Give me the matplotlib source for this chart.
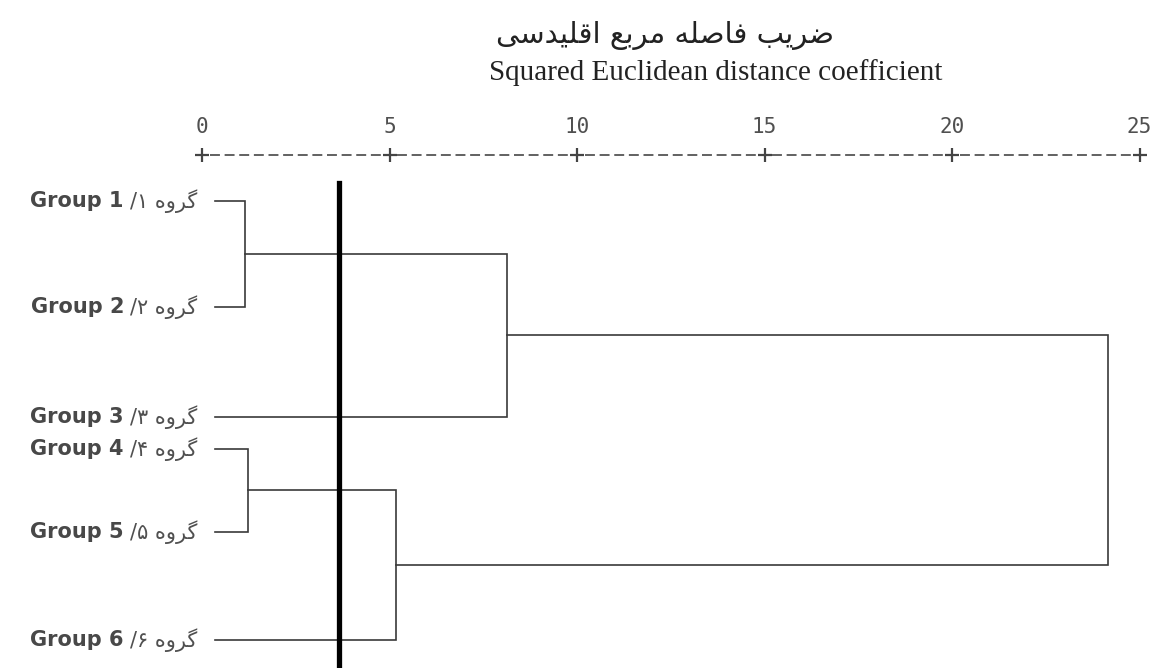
import matplotlib
matplotlib.use("Agg")
import matplotlib.pyplot as plt

# --- data -------------------------------------------------------------
title_fa = "ضریب فاصله مربع اقلیدسی"
title_en = "Squared Euclidean distance coefficient"

group_names = ["Group 1", "Group 2", "Group 3", "Group 4", "Group 5", "Group 6"]
group_fa_digits = ["۱", "۲", "۳", "۴", "۵", "۶"]
group_fa_word = "گروه"

# vertical row of each leaf (top to bottom)
leaf_rows = [0.48, 2.47, 4.52, 5.12, 6.67, 8.69]

# merges: (child a, child b, distance); new node ids continue after the leaves
merges = [
    (0, 1, 1.15),
    (3, 4, 1.23),
    (7, 5, 5.17),
    (6, 2, 8.13),
    (9, 8, 24.16),
]

cut_distance = 3.65
scale_ticks = [0, 5, 10, 15, 20, 25]
leaf_start = 0.35


# --- minimal arabic/persian shaping (matplotlib has no bidi support) ---
# letter: (isolated, final, initial, medial); None = does not join forward
FORMS = {
    "ا": ("\uFE8D", "\uFE8E", None, None),
    "ب": ("\uFE8F", "\uFE90", "\uFE91", "\uFE92"),
    "د": ("\uFEA9", "\uFEAA", None, None),
    "ر": ("\uFEAD", "\uFEAE", None, None),
    "س": ("\uFEB1", "\uFEB2", "\uFEB3", "\uFEB4"),
    "ص": ("\uFEB9", "\uFEBA", "\uFEBB", "\uFEBC"),
    "ض": ("\uFEBD", "\uFEBE", "\uFEBF", "\uFEC0"),
    "ع": ("\uFEC9", "\uFECA", "\uFECB", "\uFECC"),
    "ف": ("\uFED1", "\uFED2", "\uFED3", "\uFED4"),
    "ق": ("\uFED5", "\uFED6", "\uFED7", "\uFED8"),
    "ل": ("\uFEDD", "\uFEDE", "\uFEDF", "\uFEE0"),
    "م": ("\uFEE1", "\uFEE2", "\uFEE3", "\uFEE4"),
    "ه": ("\uFEE9", "\uFEEA", "\uFEEB", "\uFEEC"),
    "و": ("\uFEED", "\uFEEE", None, None),
    "ی": ("\uFBFC", "\uFBFD", "\uFBFE", "\uFBFF"),
    "گ": ("\uFB92", "\uFB93", "\uFB94", "\uFB95"),
}


def shape_rtl(text):
    out = []
    for i, ch in enumerate(text):
        if ch not in FORMS:
            out.append(ch)
            continue
        prev = text[i - 1] if i > 0 else ""
        nxt = text[i + 1] if i + 1 < len(text) else ""
        joins_prev = prev in FORMS and FORMS[prev][2] is not None
        joins_next = nxt in FORMS and FORMS[ch][2] is not None
        iso, fin, ini, med = FORMS[ch]
        if joins_prev and joins_next:
            out.append(med)
        elif joins_prev:
            out.append(fin)
        elif joins_next:
            out.append(ini)
        else:
            out.append(iso)
    return "".join(reversed(out))


# --- figure -------------------------------------------------------------
fig = plt.figure(figsize=(11.5, 6.68), dpi=100)
ax = fig.add_axes([202 / 1150, 0.0, 937.5 / 1150, 493 / 668])
ax.set_xlim(0, 25)
ax.set_ylim(9.215, 0)
ax.axis("off")

line_col = "#3a3a3a"

# tree
pos = {i: (leaf_start, r) for i, r in enumerate(leaf_rows)}
node = len(leaf_rows)
for a, b, h in merges:
    xa, ya = pos[a]
    xb, yb = pos[b]
    ax.plot([xa, h, h, xb], [ya, ya, yb, yb], color=line_col, lw=1.2,
            solid_joinstyle="miter")
    pos[node] = (h, (ya + yb) / 2)
    node += 1

# cut line
ax.plot([cut_distance, cut_distance], [0.15, 9.3], color="black", lw=3.8,
        clip_on=False)

# leaf labels: persian part (regular) at the right, english part (bold) to its left
fa_word = shape_rtl(group_fa_word)
renderer = fig.canvas.get_renderer()
for name, dig, row in zip(group_names, group_fa_digits, leaf_rows):
    fa = ax.text(-0.13, row, f"/{dig} {fa_word}", ha="right", va="center",
                 fontsize=15, color="#505050", family="DejaVu Sans",
                 clip_on=False)
    bb = fa.get_window_extent(renderer)
    x_left, _ = ax.transData.inverted().transform((bb.x0 - 6, 0))
    ax.text(x_left, row, name, ha="right", va="center", fontsize=15,
            color="#484848", fontweight="bold", family="DejaVu Sans",
            clip_on=False)

# scale on top, SPSS style "+-----+"
scale_y = -0.374
for t0, t1 in zip(scale_ticks[:-1], scale_ticks[1:]):
    ax.plot([t0 + 0.2, t1 - 0.2], [scale_y, scale_y], color="#555555",
            lw=1.3, ls=(0, (5.5, 2.6)), clip_on=False)
ax.plot(scale_ticks, [scale_y] * len(scale_ticks), "+", color="#444444",
        ms=10, mew=1.6, clip_on=False)
for t in scale_ticks:
    ax.text(t, -0.9, str(t), ha="center", va="center", fontsize=15,
            color="#505050", family="DejaVu Sans Mono", clip_on=False)

# titles
fig.text(665 / 1150, 1 - 36 / 668, shape_rtl(title_fa), ha="center",
         va="center", fontsize=21, color="#222222", family="DejaVu Sans")
fig.text(716 / 1150, 1 - 73 / 668, title_en, ha="center", va="center",
         fontsize=21, color="#222222", family="Liberation Serif")

fig.savefig("out.png", dpi=100)
plt.close(fig)
